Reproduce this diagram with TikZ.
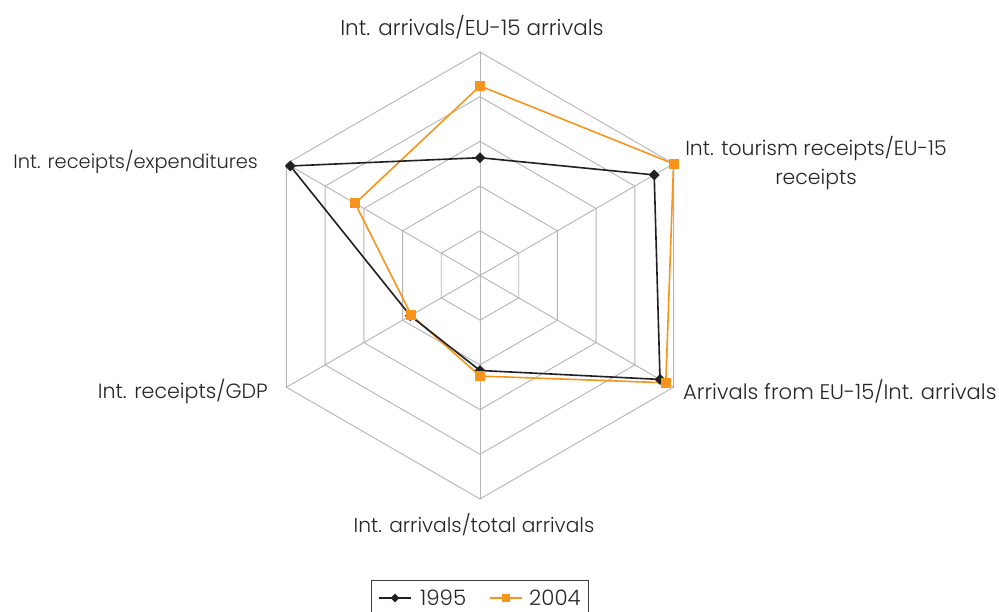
\documentclass[tikz,border=0pt]{standalone}
\usepackage{fontspec}
\setmainfont{Poppins Light}
\usetikzlibrary{shapes.geometric}
\definecolor{gridgray}{HTML}{B5B5B5}
\definecolor{serA}{HTML}{231F20}
\definecolor{serB}{HTML}{F7941D}
\tikzset{
  gridline/.style={draw=gridgray, line width=0.9pt},
  lineA/.style={draw=serA, line width=1.6pt, line join=round},
  lineB/.style={draw=serB, line width=1.6pt, line join=round},
  markA/.style={diamond, fill=serA, inner sep=0pt, minimum size=11pt},
  markB/.style={rectangle, fill=serB, inner sep=0pt, minimum size=10pt},
  lbl/.style={inner sep=0pt, text=black!85},
  fsz/.style={font=\fontsize{#1}{29}\selectfont},
}
\begin{document}
\begin{tikzpicture}[x=1pt,y=1pt,font=\fontsize{21.3}{29}\selectfont]
\useasboundingbox (0,0) rectangle (999,612);
\fill[white] (0,0) rectangle (999,612);
\begin{scope}[shift={(480,336.5)}]
  \foreach \k in {1,...,5} {
    \draw[gridline] (90:\k*44.7) -- (30:\k*44.7) -- (-30:\k*44.7) -- (-90:\k*44.7) -- (210:\k*44.7) -- (150:\k*44.7) -- cycle;
  }
  \foreach \a in {90,30,-30,-90,210,150} {
    \draw[gridline] (0,0) -- (\a:223.5);
  }
  % 1995
  \coordinate (a1) at (90:0.527*223.5);
  \coordinate (a2) at (30:0.90*223.5);
  \coordinate (a3) at (-30:0.93*223.5);
  \coordinate (a4) at (-90:0.425*223.5);
  \coordinate (a5) at (210:0.36*223.5);
  \coordinate (a6) at (150:0.98*223.5);
  % 2004
  \coordinate (b1) at (90:0.848*223.5);
  \coordinate (b2) at (30:1.0*223.5);
  \coordinate (b3) at (-30:0.96*223.5);
  \coordinate (b4) at (-90:0.45*223.5);
  \coordinate (b5) at (210:0.355*223.5);
  \coordinate (b6) at (150:0.645*223.5);
\end{scope}
\draw[lineB] (b1) -- (b2) -- (b3) -- (b4) -- (b5) -- (b6) -- cycle;
\draw[lineA] (a1) -- (a2) -- (a3) -- (a4) -- (a5) -- (a6) -- cycle;
\foreach \i in {1,...,6} { \node[markA] (ma\i) at (a\i) {}; }
\foreach \i in {1,...,6} { \node[markB] (mb\i) at (b\i) {}; }
% axis labels
\node[lbl, fsz=21.5] (t1) at (472,585) {Int. arrivals/EU-15 arrivals};
\node[lbl, fsz=20.4, align=center] (t2) at (816,449) {Int. tourism receipts/EU-15\\receipts};
\node[lbl, fsz=21.1, anchor=west] (t3) at (683,221) {Arrivals from EU-15/Int. arrivals};
\node[lbl, fsz=20.2] (t4) at (474,87) {Int. arrivals/total arrivals};
\node[lbl, fsz=20.6, anchor=east] (t5) at (268,221) {Int. receipts/GDP};
\node[lbl, fsz=19.4, anchor=east] (t6) at (258,450) {Int. receipts/expenditures};
% legend
\draw[draw=black!75, line width=0.8pt] (371.5,-5) rectangle (588,32);
\coordinate (la0) at (379,14);
\coordinate (la1) at (411,14);
\draw[lineA, line width=1.3pt] (la0) -- (la1);
\node[markA, minimum size=9pt] (lma) at (395,14) {};
\node[lbl, anchor=west] (lta) at (420,14) {1995};
\coordinate (lb0) at (490,14);
\coordinate (lb1) at (522,14);
\draw[lineB, line width=1.3pt] (lb0) -- (lb1);
\node[markB, minimum size=8pt] (lmb) at (506,14) {};
\node[lbl, anchor=west] (ltb) at (529,14) {2004};
\end{tikzpicture}
\end{document}
